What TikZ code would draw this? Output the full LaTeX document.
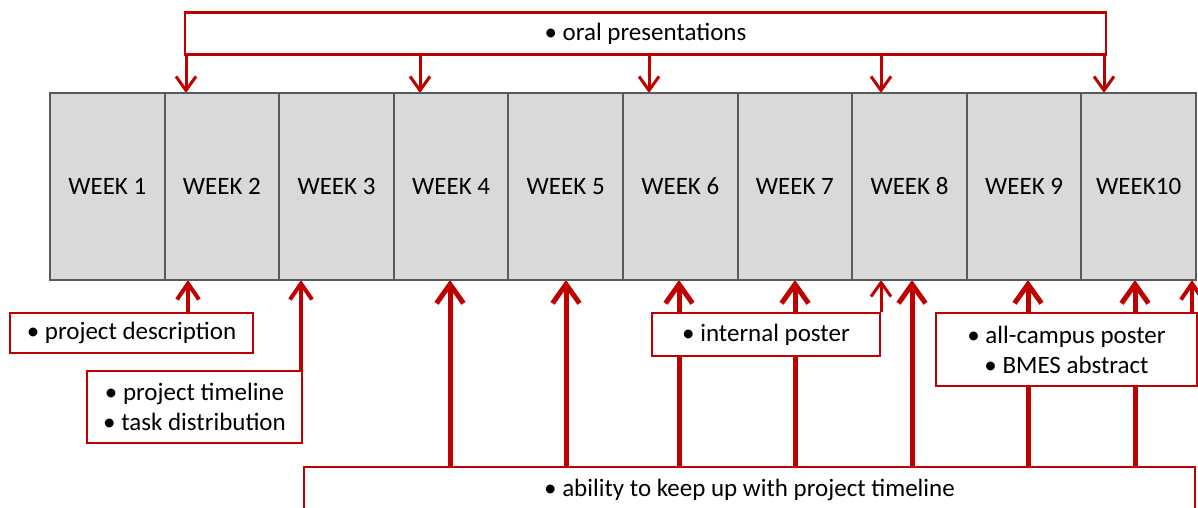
\documentclass[tikz,border=0pt]{standalone}
\usepackage{fontspec}
\setmainfont{Carlito}
\usetikzlibrary{arrows.meta}
\definecolor{myred}{HTML}{C00000}
\definecolor{weekfill}{HTML}{D9D9D9}
\definecolor{weekline}{HTML}{595959}
\pgfdeclarelayer{arrowlayer}
\pgfsetlayers{arrowlayer,main}
\begin{document}
\begin{tikzpicture}[x=1pt,y=-1pt, font=\fontsize{25}{30}\selectfont,
 week/.style={fill=weekfill, minimum width=114.6pt, minimum height=187pt, inner sep=0pt, outer sep=0pt},
 weekborder/.style={draw=weekline, line width=2pt},
 rbox/.style={draw=myred, line width=2.5pt, fill=white, inner sep=0pt, align=center},
 athin/.style={draw=myred, line width=3pt, -{Straight Barb[length=14pt,width=20pt]}},
 amid/.style={draw=myred, line width=4pt, -{Straight Barb[length=16pt,width=22pt]}},
 athick/.style={draw=myred, line width=5pt, -{Straight Barb[length=19pt,width=27pt]}}]
\useasboundingbox (0,0) rectangle (1198,507);
\clip (0,0) rectangle (1198,507);
% week boxes
\foreach \i/\t in {1/WEEK 1,2/WEEK 2,3/WEEK 3,4/WEEK 4,5/WEEK 5,6/WEEK 6,7/WEEK 7,8/WEEK 8,9/WEEK 9,10/WEEK10}
  \node[week] (w\i) at ({50+114.6*(\i-0.5)},186.5) {\t};
\foreach \i in {1,...,10}
  \draw[weekborder] (w\i.north west) rectangle (w\i.south east);
% label boxes
\node[rbox, minimum width=921pt, minimum height=42pt] (oral) at (645.5,33.5) {• oral presentations};
\node[rbox, minimum width=243pt, minimum height=40pt] (desc) at (131.5,333) {• project description};
\node[rbox, minimum width=215pt, minimum height=72pt] (timeline) at (194.5,407) {• project timeline\\• task distribution};
\node[rbox, minimum width=228pt, minimum height=43pt] (internal) at (766,334.5) {• internal poster};
\node[rbox, minimum width=261pt, minimum height=73pt] (campus) at (1066.5,349.5) {• all-campus poster\\• BMES abstract};
\node[rbox, minimum width=891pt, minimum height=46pt] (ability) at (749.5,490) {• ability to keep up with project timeline};
% x positions of connectors
\foreach \x in {186,188,301,420,450,566,649,679,795,881,912,1028,1104,1135,1192}
  \coordinate (c\x) at (\x,0);
\begin{pgfonlayer}{arrowlayer}
\fill[white] (0,0) rectangle (1198,507);
% oral presentations
\draw[athin] (oral.south -| c186) -- (w2.north -| c186);
\draw[athin] (oral.south -| c420) -- (w4.north -| c420);
\draw[athin] (oral.south -| c649) -- (w6.north -| c649);
\draw[athin] (oral.south -| c881) -- (w8.north -| c881);
\draw[athin] (oral.south -| c1104) -- (w10.north -| c1104);
% lower connectors
\draw[amid] (desc.north -| c188) -- (w2.south -| c188);
\draw[amid] (timeline.north -| c301) -- (w3.south -| c301);
\draw[athin] (internal.north -| c881) -- (w8.south -| c881);
\draw[amid] (campus.north -| c1192) -- (w10.south -| c1192);
\draw[athick] (ability.north -| c450) -- (w4.south -| c450);
\draw[athick] (ability.north -| c566) -- (w5.south -| c566);
\draw[athick] (ability.north -| c679) -- (w6.south -| c679);
\draw[athick] (ability.north -| c795) -- (w7.south -| c795);
\draw[athick] (ability.north -| c912) -- (w8.south -| c912);
\draw[athick] (ability.north -| c1028) -- (w9.south -| c1028);
\draw[athick] (ability.north -| c1135) -- (w10.south -| c1135);
\end{pgfonlayer}
\end{tikzpicture}
\end{document}
